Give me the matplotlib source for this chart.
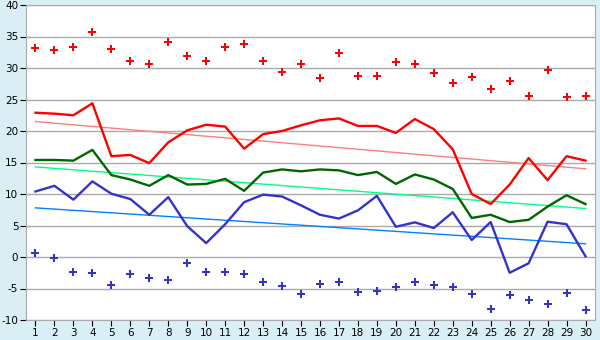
import numpy as np
import matplotlib
matplotlib.use('Agg')
import matplotlib.pyplot as plt

plt.rcParams['axes.unicode_minus'] = False

days = np.arange(1, 31)

# daily maximum points (red) and minimum points (blue)
max_pts = [33.2, 32.9, 33.3, 35.7, 33.0, 31.1, 30.6, 34.1, 31.9, 31.1,
           33.3, 33.8, 31.1, 29.4, 30.6, 28.4, 32.4, 28.7, 28.7, 31.0,
           30.6, 29.2, 27.6, 28.6, 26.7, 27.9, 25.6, 29.7, 25.4, 25.6]
min_pts = [0.6, -0.2, -2.4, -2.5, -4.4, -2.7, -3.3, -3.65, -1.0, -2.4,
           -2.4, -2.7, -4.0, -4.6, -5.9, -4.3, -4.0, -5.6, -5.4, -4.8,
           -4.0, -4.4, -4.8, -5.9, -8.25, -6.0, -6.8, -7.5, -5.75, -8.4]

# lines
red_line = [22.9, 22.75, 22.5, 24.4, 16.0, 16.2, 14.9, 18.2, 20.1, 21.0,
            20.7, 17.2, 19.5, 20.0, 20.9, 21.7, 22.0, 20.8, 20.8, 19.7,
            21.9, 20.3, 17.1, 10.0, 8.4, 11.5, 15.7, 12.2, 16.0, 15.3]
green_line = [15.4, 15.4, 15.3, 17.0, 13.0, 12.3, 11.3, 13.0, 11.5, 11.6,
              12.4, 10.5, 13.4, 13.9, 13.6, 13.9, 13.75, 13.0, 13.5, 11.6,
              13.1, 12.3, 10.8, 6.2, 6.7, 5.55, 5.9, 8.0, 9.8, 8.4]
blue_line = [10.4, 11.3, 9.1, 12.0, 10.05, 9.2, 6.7, 9.5, 4.9, 2.2,
             5.2, 8.7, 9.9, 9.6, 8.2, 6.7, 6.1, 7.4, 9.7, 4.8,
             5.5, 4.6, 7.1, 2.7, 5.55, -2.5, -1.0, 5.6, 5.2, 0.1]

# trend lines (value at day 1, value at day 30)
red_trend = [21.5, 14.0]
green_trend = [14.3, 7.7]
blue_trend = [7.8, 2.1]

bg = '#d9eef5'
fig = plt.figure(figsize=(6, 3.4), dpi=100, facecolor=bg)
ax = fig.add_axes([26 / 600, 20 / 340, 569 / 600, 315 / 340])
ax.set_facecolor('white')

ax.set_xlim(0.5, 30.5)
ax.set_ylim(-10, 40)
ax.set_yticks(np.arange(-10, 41, 5))
ax.set_xticks(days)
ax.grid(axis='y', color='#aaaaaa', linewidth=1)
ax.set_axisbelow(True)

ends = [days[0], days[-1]]
ax.plot(ends, red_trend, color='#ff7f7f', linewidth=1, zorder=2)
ax.plot(ends, green_trend, color='#00ff80', linewidth=1, zorder=2)
ax.plot(ends, blue_trend, color='#0080ff', linewidth=1, zorder=2)

ax.plot(days, red_line, color='#ff0000', linewidth=1.7, zorder=3)
ax.plot(days, green_line, color='#006600', linewidth=1.7, zorder=3)
ax.plot(days, blue_line, color='#3333cc', linewidth=1.7, zorder=3)

ax.plot(days, max_pts, linestyle='none', marker='P', markersize=5.5,
        color='#ff0000', markeredgewidth=0, zorder=4)
ax.plot(days, min_pts, linestyle='none', marker='P', markersize=5.5,
        color='#3333cc', markeredgewidth=0, zorder=4)

for s in ax.spines.values():
    s.set_color('#aaaaaa')
ax.tick_params(axis='both', labelsize=7.5, length=4, color='black', pad=1.5)

fig.savefig('out.png', dpi=100, facecolor=bg)
